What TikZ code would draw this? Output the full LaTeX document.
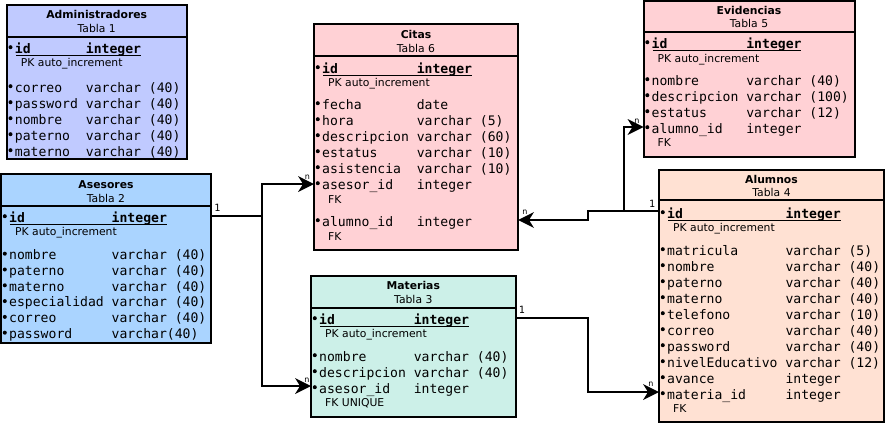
\documentclass[tikz,border=0pt]{standalone}
\usepackage{fontspec}
\setmainfont{DejaVu Sans}
\setmonofont{DejaVu Sans Mono}
\definecolor{cAdm}{RGB}{192,202,255}
\definecolor{cAse}{RGB}{170,212,255}
\definecolor{cCit}{RGB}{255,209,213}
\definecolor{cMat}{RGB}{204,240,232}
\definecolor{cAlu}{RGB}{255,225,211}
\newdimen\cw \cw=7.886pt
\tikzset{
 tblbox/.style={draw=black, line width=2pt, rectangle, inner sep=0pt, outer sep=0pt, anchor=north west},
 tblline/.style={line width=2pt},
 ttl/.style={font=\fontsize{10.8}{12}\selectfont\bfseries, anchor=base, inner sep=0pt},
 tbn/.style={font=\fontsize{10.8}{12}\selectfont, anchor=base, inner sep=0pt},
 fldtxt/.style={font=\ttfamily\fontsize{13.1}{16}\selectfont, anchor=base west, inner sep=0pt},
 idtxt/.style={font=\ttfamily\bfseries\fontsize{13.1}{16}\selectfont, anchor=base west, inner sep=0pt},
 notetxt/.style={font=\fontsize{10.8}{12}\selectfont, anchor=base west, inner sep=0pt},
 conn/.style={line width=2.2pt, shorten >=10pt},
 card/.style={font=\ttfamily\fontsize{10}{12}\selectfont, inner sep=0pt},
 cardn/.style={font=\fontsize{8}{9}\selectfont, inner sep=0pt},
}
\newcommand\tbframe[7]{%
 \pgfmathsetmacro\tbw{#4-#2}\pgfmathsetmacro\tbh{#5-#3}%
 \node[tblbox, fill=#7, minimum width=\tbw pt, minimum height=\tbh pt] (#1) at (#2,#3) {};
 \draw[tblline] (#2,#6) -- (#4,#6);}
\newcommand\tbhead[6]{%
 \node[ttl] (#1-title) at (#2,#3) {#4};
 \node[tbn] (#1-tabla) at (#2,#5) {#6};}
\newcommand\fld[6]{%
 \fill (#2+3.8,#3-5.8) circle[radius=2pt];
 \node[fldtxt] (#1) at (#2+8,#3) {\makebox[#4\cw][l]{#5}#6};}
\newcommand\idfld[4]{%
 \fill (#2+3.8,#3-5.8) circle[radius=2pt];
 \node[idtxt] (#1) at (#2+8,#3) {\makebox[#4\cw][l]{id}integer};
 \draw[line width=1.3pt] (#2+9.3,#3+2.4) -- (#2+8+#4*7.886+7*7.886,#3+2.4);}
\newcommand\pk[4]{%
 \node[notetxt] (#1) at (#2+14,#3) {#4};}
% arrow heads: tip at #1, pointing right / left
\newcommand\headR[1]{\fill (#1) -- ++(-16,-8) -- ++(5,8) -- ++(-5,8) -- cycle;}
\newcommand\headL[1]{\fill (#1) -- ++(16,-8) -- ++(-5,8) -- ++(5,8) -- cycle;}
\begin{document}
\begin{tikzpicture}[x=1pt,y=-1pt]
\useasboundingbox (0,0) rectangle (885,423);
% Administradores
\tbframe{adm}{6.7}{4.7}{186.7}{158.5}{36.7}{cAdm}
\tbhead{adm}{96.7}{18.7}{Administradores}{32.7}{Tabla 1}
\idfld{adm-id}{6.7}{53}{9}
\pk{adm-pk}{6.7}{66}{PK auto\_increment}
\fld{adm-f1}{6.7}{92}{9}{correo}{varchar (40)}
\fld{adm-f2}{6.7}{108}{9}{password}{varchar (40)}
\fld{adm-f3}{6.7}{124}{9}{nombre}{varchar (40)}
\fld{adm-f4}{6.7}{140}{9}{paterno}{varchar (40)}
\fld{adm-f5}{6.7}{156}{9}{materno}{varchar (40)}
% Asesores
\tbframe{ase}{1}{174}{211}{342.7}{205.7}{cAse}
\tbhead{ase}{106}{188}{Asesores}{202}{Tabla 2}
\idfld{ase-id}{1}{222}{13}
\pk{ase-pk}{1}{235.5}{PK auto\_increment}
\fld{ase-f1}{1}{259.5}{13}{nombre}{varchar (40)}
\fld{ase-f2}{1}{275.3}{13}{paterno}{varchar (40)}
\fld{ase-f3}{1}{291.1}{13}{materno}{varchar (40)}
\fld{ase-f4}{1}{306.9}{13}{especialidad}{varchar (40)}
\fld{ase-f5}{1}{322.7}{13}{correo}{varchar (40)}
\fld{ase-f6}{1}{338.5}{13}{password}{varchar(40)}
% Citas
\tbframe{cit}{314}{24}{518}{250}{56}{cCit}
\tbhead{cit}{416}{38}{Citas}{52}{Tabla 6}
\idfld{cit-id}{314}{73}{12}
\pk{cit-pk}{314}{86.5}{PK auto\_increment}
\fld{cit-f1}{314}{109}{12}{fecha}{date}
\fld{cit-f2}{314}{125}{12}{hora}{varchar (5)}
\fld{cit-f3}{314}{141}{12}{descripcion}{varchar (60)}
\fld{cit-f4}{314}{157}{12}{estatus}{varchar (10)}
\fld{cit-f5}{314}{173}{12}{asistencia}{varchar (10)}
\fld{cit-f6}{314}{189}{12}{asesor\_id}{integer}
\pk{cit-fk1}{314}{203}{FK}
\fld{cit-f7}{314}{226}{12}{alumno\_id}{integer}
\pk{cit-fk2}{314}{240}{FK}
% Materias
\tbframe{mat}{311}{275.5}{515.5}{417}{307.7}{cMat}
\tbhead{mat}{413.3}{289.5}{Materias}{303.5}{Tabla 3}
\idfld{mat-id}{311}{324}{12}
\pk{mat-pk}{311}{337}{PK auto\_increment}
\fld{mat-f1}{311}{361}{12}{nombre}{varchar (40)}
\fld{mat-f2}{311}{377}{12}{descripcion}{varchar (40)}
\fld{mat-f3}{311}{393}{12}{asesor\_id}{integer}
\pk{mat-fk}{311}{406}{FK UNIQUE}
% Evidencias
\tbframe{evi}{643.5}{1}{854.5}{156.5}{31.7}{cCit}
\tbhead{evi}{749}{14}{Evidencias}{27.5}{Tabla 5}
\idfld{evi-id}{643.5}{48}{12}
\pk{evi-pk}{643.5}{62}{PK auto\_increment}
\fld{evi-f1}{643.5}{85}{12}{nombre}{varchar (40)}
\fld{evi-f2}{643.5}{101}{12}{descripcion}{varchar (100)}
\fld{evi-f3}{643.5}{117}{12}{estatus}{varchar (12)}
\fld{evi-f4}{643.5}{133}{12}{alumno\_id}{integer}
\pk{evi-fk}{643.5}{146}{FK}
% Alumnos
\tbframe{alu}{659}{169.5}{884}{421.5}{200}{cAlu}
\tbhead{alu}{771.5}{183}{Alumnos}{196.5}{Tabla 4}
\idfld{alu-id}{659}{218}{15}
\pk{alu-pk}{659}{231}{PK auto\_increment}
\fld{alu-f1}{659}{255}{15}{matricula}{varchar (5)}
\fld{alu-f2}{659}{271}{15}{nombre}{varchar (40)}
\fld{alu-f3}{659}{287}{15}{paterno}{varchar (40)}
\fld{alu-f4}{659}{303}{15}{materno}{varchar (40)}
\fld{alu-f5}{659}{319}{15}{telefono}{varchar (10)}
\fld{alu-f6}{659}{335}{15}{correo}{varchar (40)}
\fld{alu-f7}{659}{351}{15}{password}{varchar (40)}
\fld{alu-f8}{659}{367}{15}{nivelEducativo}{varchar (12)}
\fld{alu-f9}{659}{383}{15}{avance}{integer}
\fld{alu-f10}{659}{399}{15}{materia\_id}{integer}
\pk{alu-fk}{659}{412}{FK}
% connection points
\coordinate (ase-p) at (ase.east |- 0,216);
\coordinate (cit-a) at (cit.west |- 0,184);
\coordinate (mat-a) at (mat.west |- 0,386);
\coordinate (mat-p) at (mat.east |- 0,318);
\coordinate (alu-a) at (alu.west |- 0,392);
\coordinate (alu-p) at (alu.west |- 0,211);
\coordinate (cit-b) at (cit.east |- 0,220);
\coordinate (evi-a) at (evi.west |- 0,127);
% connectors
\draw[conn] (ase-p) -- ++(51,0) |- (cit-a);
\draw[conn] (ase-p) -- ++(51,0) |- (mat-a);
\draw[conn] (mat-p) -- ++(72.5,0) |- (alu-a);
\draw[conn] (alu-p) -- ++(-71,0) |- (cit-b);
\draw[conn] (alu-p) -- ++(-35,0) |- (evi-a);
\headR{cit-a}
\headR{mat-a}
\headR{alu-a}
\headL{cit-b}
\headR{evi-a}
% cardinalities
\node[card] (c1) at (217.5,208) {1};
\node[cardn] (n1) at (307.5,177) {n};
\node[cardn] (n2) at (307,380) {n};
\node[card] (c2) at (522,310) {1};
\node[cardn] (n3) at (651,384) {n};
\node[card] (c3) at (652,204) {1};
\node[cardn] (n4) at (525,212) {n};
\node[cardn] (n5) at (637,121) {n};
\end{tikzpicture}
\end{document}
